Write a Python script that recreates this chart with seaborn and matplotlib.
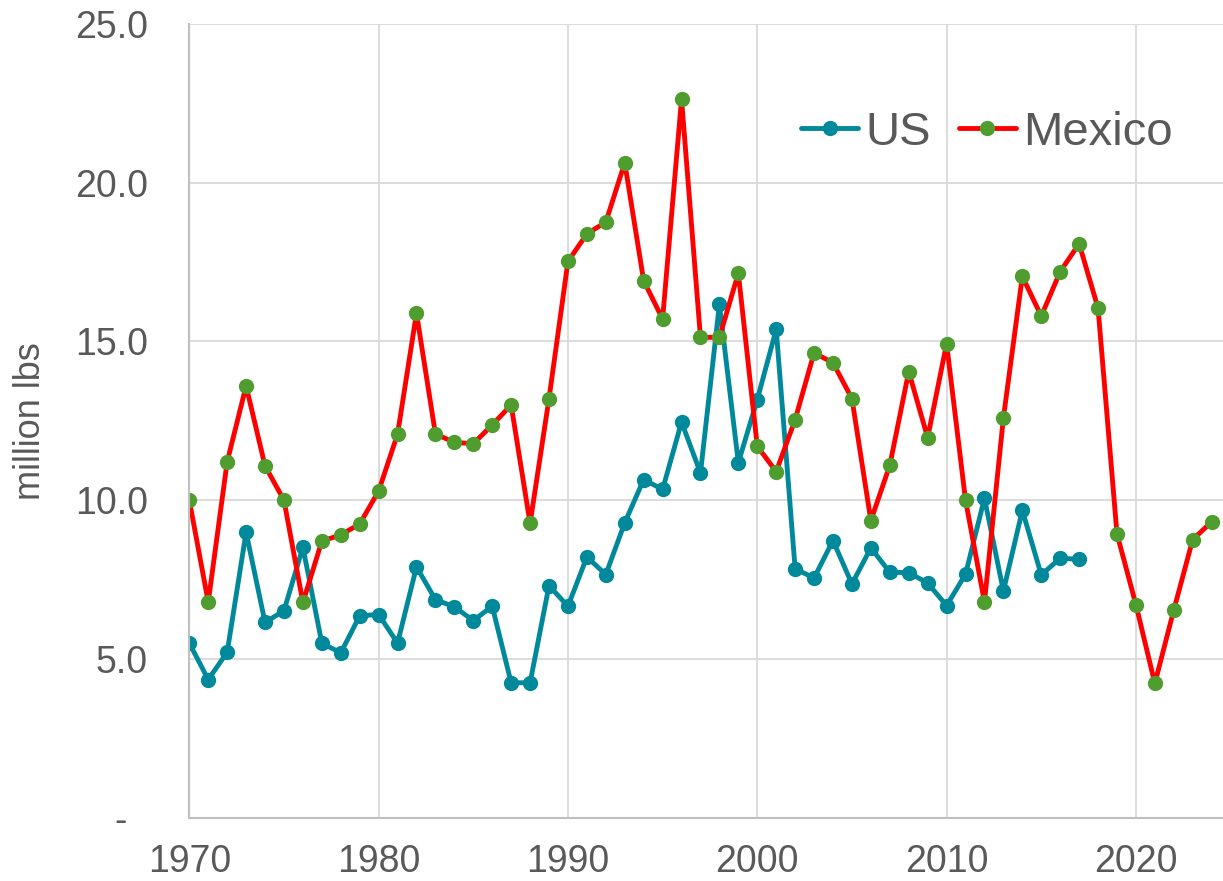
import matplotlib
matplotlib.use("Agg")
import matplotlib.pyplot as plt
import seaborn as sns
import pandas as pd

us_years = list(range(1970, 2018))
us_values = [5.50, 4.35, 5.21, 8.99, 6.15, 6.52, 8.52, 5.50, 5.19, 6.36,
             6.40, 5.50, 7.90, 6.87, 6.64, 6.21, 6.66, 4.25, 4.25, 7.31,
             6.66, 8.21, 7.66, 9.29, 10.65, 10.34, 12.46, 10.86, 16.17, 11.18,
             13.17, 15.38, 7.84, 7.55, 8.73, 7.36, 8.50, 7.73, 7.72, 7.39,
             6.68, 7.67, 10.06, 7.14, 9.68, 7.65, 8.17, 8.14]

mx_years = list(range(1970, 2025))
mx_values = [10.00, 6.79, 11.21, 13.60, 11.08, 10.00, 6.78, 8.71, 8.91, 9.25,
             10.29, 12.08, 15.89, 12.09, 11.82, 11.78, 12.37, 13.00, 9.27, 13.20,
             17.52, 18.39, 18.76, 20.63, 16.91, 15.71, 22.63, 15.13, 15.13, 17.15,
             11.70, 10.90, 12.54, 14.64, 14.33, 13.20, 9.36, 11.10, 14.05, 11.97,
             14.93, 10.00, 6.79, 12.59, 17.05, 15.80, 17.20, 18.08, 16.05, 8.94,
             6.71, 4.23, 6.54, 8.76, 9.32]

x_ticks = [1970, 1980, 1990, 2000, 2010, 2020]
y_ticks = [0, 5, 10, 15, 20, 25]
y_labels = ["-  ", "5.0", "10.0", "15.0", "20.0", "25.0"]

us_df = pd.DataFrame({"year": us_years, "value": us_values})
mx_df = pd.DataFrame({"year": mx_years, "value": mx_values})

sns.set_style("white")
plt.rcParams["font.family"] = ["Liberation Sans", "DejaVu Sans"]

fig = plt.figure(figsize=(12.23, 8.81), dpi=100)
ax = fig.add_axes([189.3 / 1223, 1 - 817.7 / 881, 1 - 189.3 / 1223, (817.7 - 24) / 881])

teal = "#00899A"
sns.lineplot(data=us_df, x="year", y="value", ax=ax, color=teal, linewidth=3.5,
             marker="o", markersize=11, markerfacecolor=teal, markeredgecolor=teal,
             markeredgewidth=0, label="US")
sns.lineplot(data=mx_df, x="year", y="value", ax=ax, color="#FF0000", linewidth=3.5,
             marker="o", markersize=11, markerfacecolor="#4F9D2F", markeredgecolor="#4F9D2F",
             markeredgewidth=0, label="Mexico")

ax.set_xlim(1970, 2024.6)
ax.set_ylim(0, 25)
ax.set_xticks(x_ticks)
ax.set_yticks(y_ticks)
ax.set_yticklabels(y_labels)
ax.grid(True, color="#D9D9D9", linewidth=1.3)
ax.set_axisbelow(True)
for s in ["top", "right"]:
    ax.spines[s].set_visible(False)
for s in ["left", "bottom"]:
    ax.spines[s].set_color("#BFBFBF")
    ax.spines[s].set_linewidth(1.5)
ax.tick_params(axis="both", length=0, labelcolor="#595959")
ax.tick_params(axis="x", labelsize=27, pad=19)
ax.tick_params(axis="y", labelsize=27, pad=30)
ax.set_xlabel("")
ax.set_ylabel("million lbs", fontsize=26, color="#595959")
ax.yaxis.set_label_coords(-141 / 1033.7, 0.5)

ax.legend(loc="center right", bbox_to_anchor=(0.951, 0.863), ncol=2, frameon=False,
          fontsize=34, handlelength=1.2, handletextpad=0.15, columnspacing=0.6,
          borderpad=0, borderaxespad=0, labelcolor="#595959")

fig.savefig("out.png", dpi=100)
